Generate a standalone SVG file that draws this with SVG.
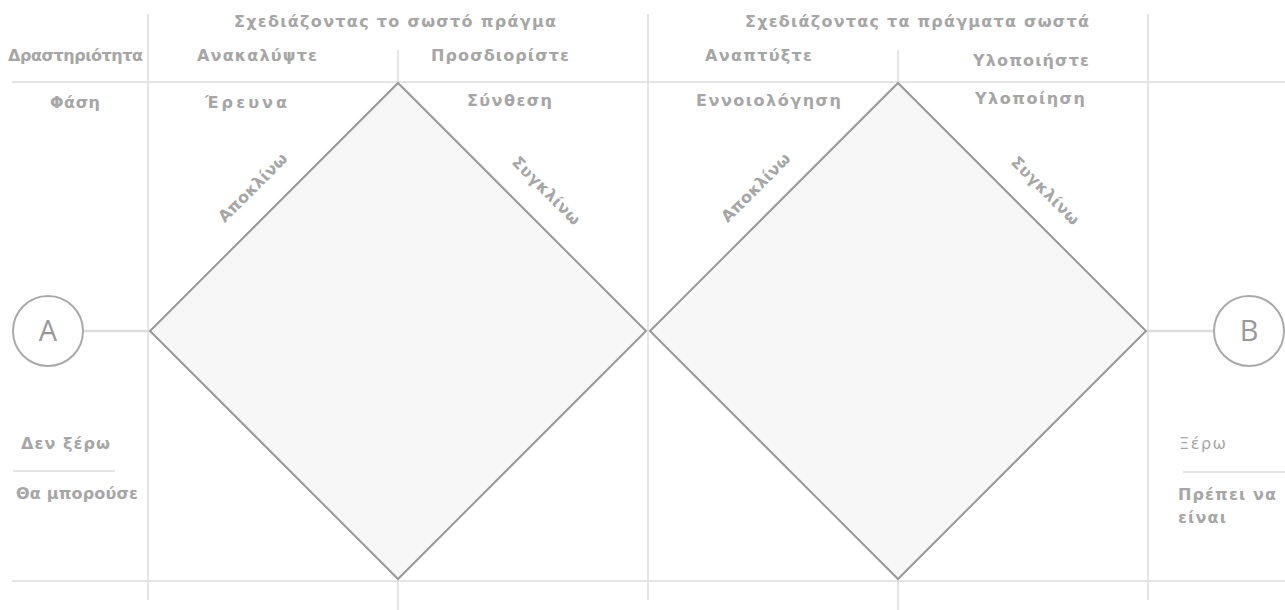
<svg xmlns="http://www.w3.org/2000/svg" width="1285" height="610" viewBox="0 0 1285 610">
<style>
.grid{stroke:#dcdcdc;stroke-width:1.5;fill:none}
.dia{fill:#f7f7f7;stroke:#999;stroke-width:2}
.circ{fill:#fff;stroke:#aaa;stroke-width:2}
.conn{stroke:#ddd;stroke-width:2.5;fill:none}
.t{font-family:"DejaVu Sans",sans-serif;font-size:16px;font-weight:bold;fill:#a6a6a6}
.n{font-weight:normal}
.c{text-anchor:middle}
.big{font-family:"Open Sans","Liberation Sans",sans-serif;font-size:29px;fill:#999;text-anchor:middle}
</style>
<g id="grid">
<line class="grid" x1="148" y1="14" x2="148" y2="600"/>
<line class="grid" x1="398" y1="50" x2="398" y2="610"/>
<line class="grid" x1="648" y1="14" x2="648" y2="600"/>
<line class="grid" x1="898" y1="50" x2="898" y2="610"/>
<line class="grid" x1="1148" y1="14" x2="1148" y2="600"/>
<line class="grid" x1="12" y1="82" x2="1285" y2="82"/>
<line class="grid" x1="12" y1="581" x2="1285" y2="581"/>
<line class="grid" x1="13" y1="471" x2="115" y2="471"/>
<line class="grid" x1="1183" y1="472" x2="1285" y2="472"/>
</g>
<g id="connectors">
<line class="conn" x1="84" y1="331" x2="150" y2="331"/>
<line class="conn" x1="1146" y1="331" x2="1213" y2="331"/>
</g>
<g id="diamond1">
<polygon class="dia" points="150,331 398,83 646,331 398,579"/>
<text class="t c" transform="translate(253,188) rotate(-45)" dy="5" textLength="90" lengthAdjust="spacing">Αποκλίνω</text>
<text class="t c" transform="translate(546,191) rotate(45)" dy="5" textLength="89" lengthAdjust="spacing">Συγκλίνω</text>
</g>
<g id="diamond2">
<polygon class="dia" points="650,331 898,83 1146,331 898,579"/>
<text class="t c" transform="translate(756,188) rotate(-45)" dy="5" textLength="90" lengthAdjust="spacing">Αποκλίνω</text>
<text class="t c" transform="translate(1045,191) rotate(45)" dy="5" textLength="89" lengthAdjust="spacing">Συγκλίνω</text>
</g>
<g id="nodeA">
<circle class="circ" cx="48" cy="331" r="35"/>
<text class="big" x="48" y="341">A</text>
</g>
<g id="nodeB">
<circle class="circ" cx="1249" cy="331" r="35"/>
<text class="big" x="1249" y="341">B</text>
</g>
<g id="labels">
<text class="t" x="234" y="27" textLength="322" lengthAdjust="spacing">Σχεδιάζοντας το σωστό πράγμα</text>
<text class="t" x="745" y="27" textLength="344" lengthAdjust="spacing">Σχεδιάζοντας τα πράγματα σωστά</text>
<text class="t" x="8" y="61" textLength="135" lengthAdjust="spacing">Δραστηριότητα</text>
<text class="t" x="197" y="61" textLength="120" lengthAdjust="spacing">Ανακαλύψτε</text>
<text class="t" x="431" y="61" textLength="138" lengthAdjust="spacing">Προσδιορίστε</text>
<text class="t" x="705" y="61" textLength="107" lengthAdjust="spacing">Αναπτύξτε</text>
<text class="t" x="973" y="66" textLength="116" lengthAdjust="spacing">Υλοποιήστε</text>
<text class="t" x="50" y="108" textLength="50" lengthAdjust="spacing">Φάση</text>
<text class="t" x="205" y="108" textLength="82" lengthAdjust="spacing">Έρευνα</text>
<text class="t" x="467" y="106" textLength="85" lengthAdjust="spacing">Σύνθεση</text>
<text class="t" x="696" y="106" textLength="145" lengthAdjust="spacing">Εννοιολόγηση</text>
<text class="t" x="975" y="104" textLength="110" lengthAdjust="spacing">Υλοποίηση</text>
<text class="t" x="21" y="449" textLength="89" lengthAdjust="spacing">Δεν ξέρω</text>
<text class="t" x="16" y="499" textLength="122" lengthAdjust="spacing">Θα μπορούσε</text>
<text class="t n" x="1179" y="449" textLength="47" lengthAdjust="spacing">Ξέρω</text>
<text class="t" x="1178" y="500" textLength="98" lengthAdjust="spacing">Πρέπει να</text>
<text class="t" x="1178" y="523" textLength="48" lengthAdjust="spacing">είναι</text>
</g>
</svg>
